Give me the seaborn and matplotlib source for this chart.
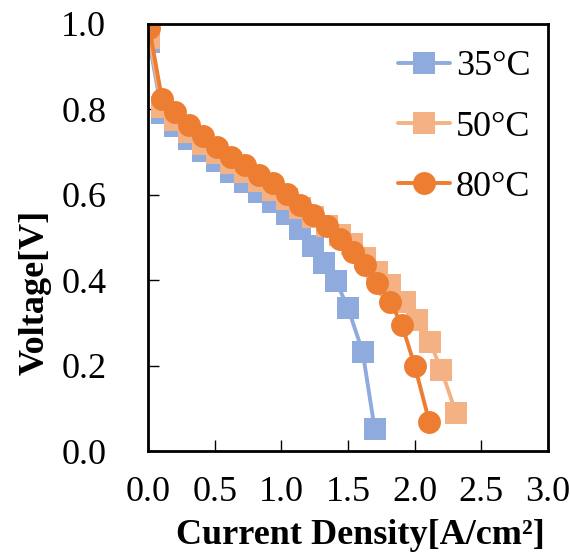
import matplotlib
matplotlib.use("Agg")
import matplotlib.pyplot as plt
import seaborn as sns
import pandas as pd

# Data
x_35 = [0.01, 0.105, 0.2, 0.31, 0.41, 0.515, 0.625, 0.73, 0.835, 0.94, 1.04, 1.14, 1.24, 1.32, 1.41, 1.5, 1.61, 1.70]
v_35 = [0.957, 0.792, 0.76, 0.73, 0.703, 0.678, 0.653, 0.63, 0.606, 0.582, 0.556, 0.52, 0.48, 0.44, 0.398, 0.335, 0.232, 0.052]

x_50 = [0.01, 0.105, 0.2, 0.31, 0.41, 0.515, 0.625, 0.73, 0.835, 0.94, 1.04, 1.14, 1.24, 1.34, 1.44, 1.53, 1.63, 1.72, 1.815, 1.93, 2.02, 2.115, 2.2, 2.31]
v_50 = [0.968, 0.806, 0.776, 0.746, 0.72, 0.697, 0.674, 0.653, 0.632, 0.612, 0.59, 0.568, 0.547, 0.526, 0.505, 0.484, 0.452, 0.42, 0.389, 0.35, 0.307, 0.255, 0.19, 0.089]

x_80 = [0.01, 0.105, 0.2, 0.31, 0.41, 0.515, 0.625, 0.73, 0.835, 0.94, 1.04, 1.14, 1.24, 1.34, 1.44, 1.54, 1.63, 1.72, 1.815, 1.905, 2.0, 2.11]
v_80 = [0.99, 0.824, 0.795, 0.764, 0.737, 0.713, 0.689, 0.669, 0.647, 0.627, 0.602, 0.577, 0.553, 0.526, 0.497, 0.466, 0.435, 0.394, 0.35, 0.295, 0.2, 0.068]

series_labels = ["35°C", "50°C", "80°C"]
x_ticks = [0.0, 0.5, 1.0, 1.5, 2.0, 2.5, 3.0]
y_ticks = [0.0, 0.2, 0.4, 0.6, 0.8, 1.0]

sns.set_style("ticks")
plt.rcParams["font.family"] = ["Liberation Serif", "DejaVu Serif"]
plt.rcParams["text.color"] = "black"
plt.rcParams["axes.labelcolor"] = "black"
plt.rcParams["xtick.color"] = "black"
plt.rcParams["ytick.color"] = "black"

FS = 26

fig = plt.figure(figsize=(5.7, 5.57), dpi=100)
ax = fig.add_axes([148 / 570, 1 - 451 / 557, 400 / 570, 427 / 557])

styles = [
    dict(color="#8FAADC", marker="s", markersize=15.5),
    dict(color="#F4B183", marker="s", markersize=15.5),
    dict(color="#ED7D31", marker="o", markersize=16.5),
]
for xs, vs, lab, st in zip([x_35, x_50, x_80], [v_35, v_50, v_80], series_labels, styles):
    df = pd.DataFrame({"x": xs, "v": vs})
    sns.lineplot(data=df, x="x", y="v", ax=ax, label=lab, color=st["color"],
                 marker=st["marker"], markersize=st["markersize"], markeredgewidth=0,
                 linewidth=2.8, sort=False, estimator=None)

ax.set_xlim(0, 3.0)
ax.set_ylim(0, 1.0)
ax.set_xticks(x_ticks)
ax.set_yticks(y_ticks)
ax.set_xticklabels([f"{t:.1f}" for t in x_ticks])
ax.set_yticklabels([f"{t:.1f}" for t in y_ticks])
ax.tick_params(axis="both", direction="in", length=8, width=1.0, labelsize=FS, colors="black")
ax.tick_params(axis="y", pad=30)
ax.tick_params(axis="x", pad=18)
for s in ax.spines.values():
    s.set_visible(True)
    s.set_linewidth(2.0)
    s.set_color("black")

ax.set_xlabel("Current Density[A/cm²]", fontsize=FS, fontweight="bold", color="black")
ax.set_ylabel("Voltage[V]", fontsize=FS, fontweight="bold", color="black")
ax.xaxis.set_label_coords(0.53, -0.16)
ax.yaxis.set_label_coords(-0.24, 0.372)

leg = ax.legend(loc="center left", bbox_to_anchor=(0.625, 0.759), frameon=False,
                fontsize=FS, borderpad=0, borderaxespad=0, handlelength=1.45,
                handletextpad=0.15, labelspacing=0.75)
for t in leg.get_texts():
    t.set_color("black")

fig.savefig("out.png", dpi=100)
